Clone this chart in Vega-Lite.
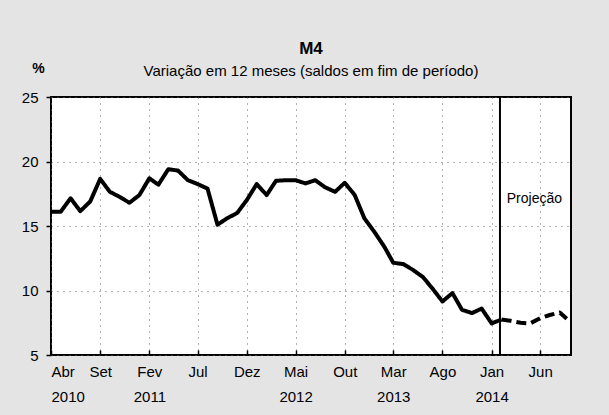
{
  "$schema": "https://vega.github.io/schema/vega-lite/v6.json",
  "width": 520,
  "height": 258,
  "autosize": {"type": "none"},
  "padding": {"left": 51, "top": 97, "right": 38, "bottom": 60},
  "background": "#e4e4e4",
  "title": {
    "text": "M4",
    "subtitle": "Variação  em 12 meses (saldos em fim de período)",
    "font": "Liberation Sans",
    "fontSize": 17,
    "fontWeight": "bold",
    "color": "#000000",
    "subtitleFont": "Liberation Sans",
    "subtitleFontSize": 15,
    "subtitleColor": "#000000",
    "subtitlePadding": 6,
    "anchor": "middle",
    "offset": -19
  },
  "config": {
    "view": {"fill": "#ffffff", "stroke": "#000000", "strokeWidth": 2},
    "axis": {
      "labelFont": "Liberation Sans",
      "labelFontSize": 15,
      "labelColor": "#000000",
      "tickColor": "#000000",
      "domain": false,
      "grid": true,
      "gridColor": "#666666",
      "gridDash": [1, 5],
      "gridWidth": 1,
      "gridOpacity": 1
    }
  },
  "datasets": {
    "m4": [
      {"mes": "2010-04-01", "valor": 16.1, "serie": "Observado"},
      {"mes": "2010-05-01", "valor": 16.1, "serie": "Observado"},
      {"mes": "2010-06-01", "valor": 17.15, "serie": "Observado"},
      {"mes": "2010-07-01", "valor": 16.15, "serie": "Observado"},
      {"mes": "2010-08-01", "valor": 16.9, "serie": "Observado"},
      {"mes": "2010-09-01", "valor": 18.65, "serie": "Observado"},
      {"mes": "2010-10-01", "valor": 17.65, "serie": "Observado"},
      {"mes": "2010-11-01", "valor": 17.25, "serie": "Observado"},
      {"mes": "2010-12-01", "valor": 16.8, "serie": "Observado"},
      {"mes": "2011-01-01", "valor": 17.4, "serie": "Observado"},
      {"mes": "2011-02-01", "valor": 18.7, "serie": "Observado"},
      {"mes": "2011-03-01", "valor": 18.2, "serie": "Observado"},
      {"mes": "2011-04-01", "valor": 19.4, "serie": "Observado"},
      {"mes": "2011-05-01", "valor": 19.3, "serie": "Observado"},
      {"mes": "2011-06-01", "valor": 18.55, "serie": "Observado"},
      {"mes": "2011-07-01", "valor": 18.25, "serie": "Observado"},
      {"mes": "2011-08-01", "valor": 17.9, "serie": "Observado"},
      {"mes": "2011-09-01", "valor": 15.1, "serie": "Observado"},
      {"mes": "2011-10-01", "valor": 15.6, "serie": "Observado"},
      {"mes": "2011-11-01", "valor": 16.0, "serie": "Observado"},
      {"mes": "2011-12-01", "valor": 17.0, "serie": "Observado"},
      {"mes": "2012-01-01", "valor": 18.25, "serie": "Observado"},
      {"mes": "2012-02-01", "valor": 17.4, "serie": "Observado"},
      {"mes": "2012-03-01", "valor": 18.5, "serie": "Observado"},
      {"mes": "2012-04-01", "valor": 18.55, "serie": "Observado"},
      {"mes": "2012-05-01", "valor": 18.55, "serie": "Observado"},
      {"mes": "2012-06-01", "valor": 18.3, "serie": "Observado"},
      {"mes": "2012-07-01", "valor": 18.55, "serie": "Observado"},
      {"mes": "2012-08-01", "valor": 18.0, "serie": "Observado"},
      {"mes": "2012-09-01", "valor": 17.65, "serie": "Observado"},
      {"mes": "2012-10-01", "valor": 18.35, "serie": "Observado"},
      {"mes": "2012-11-01", "valor": 17.4, "serie": "Observado"},
      {"mes": "2012-12-01", "valor": 15.6, "serie": "Observado"},
      {"mes": "2013-01-01", "valor": 14.55, "serie": "Observado"},
      {"mes": "2013-02-01", "valor": 13.4, "serie": "Observado"},
      {"mes": "2013-03-01", "valor": 12.15, "serie": "Observado"},
      {"mes": "2013-04-01", "valor": 12.05, "serie": "Observado"},
      {"mes": "2013-05-01", "valor": 11.6, "serie": "Observado"},
      {"mes": "2013-06-01", "valor": 11.05, "serie": "Observado"},
      {"mes": "2013-07-01", "valor": 10.15, "serie": "Observado"},
      {"mes": "2013-08-01", "valor": 9.15, "serie": "Observado"},
      {"mes": "2013-09-01", "valor": 9.8, "serie": "Observado"},
      {"mes": "2013-10-01", "valor": 8.5, "serie": "Observado"},
      {"mes": "2013-11-01", "valor": 8.25, "serie": "Observado"},
      {"mes": "2013-12-01", "valor": 8.6, "serie": "Observado"},
      {"mes": "2014-01-01", "valor": 7.45, "serie": "Observado"},
      {"mes": "2014-02-01", "valor": 7.75, "serie": "Observado"},
      {"mes": "2014-02-01", "valor": 7.75, "serie": "Projeção"},
      {"mes": "2014-03-01", "valor": 7.65, "serie": "Projeção"},
      {"mes": "2014-04-01", "valor": 7.5, "serie": "Projeção"},
      {"mes": "2014-05-01", "valor": 7.45, "serie": "Projeção"},
      {"mes": "2014-06-01", "valor": 7.85, "serie": "Projeção"},
      {"mes": "2014-07-01", "valor": 8.1, "serie": "Projeção"},
      {"mes": "2014-08-01", "valor": 8.3, "serie": "Projeção"},
      {"mes": "2014-09-01", "valor": 7.6, "serie": "Projeção"}
    ],
    "marco": [{"mes": "2014-01-27"}],
    "rotulo": [{"mes": "2014-05-14", "valor": 17.1, "texto": "Projeção"}]
  },
  "layer": [
    {
      "data": {"name": "m4"},
      "mark": {"type": "line", "color": "#000000", "strokeWidth": 4, "strokeJoin": "round"},
      "encoding": {
        "x": {
          "field": "mes",
          "type": "temporal",
          "title": null,
          "scale": {
            "type": "utc",
            "domain": [
              {"year": 2010, "month": 4, "date": 1, "utc": true},
              {"year": 2014, "month": 9, "date": 5, "utc": true}
            ]
          },
          "axis": {
            "values": [
              {"year": 2010, "month": 4, "date": 1, "utc": true},
              {"year": 2010, "month": 9, "date": 1, "utc": true},
              {"year": 2011, "month": 2, "date": 1, "utc": true},
              {"year": 2011, "month": 7, "date": 1, "utc": true},
              {"year": 2011, "month": 12, "date": 1, "utc": true},
              {"year": 2012, "month": 5, "date": 1, "utc": true},
              {"year": 2012, "month": 10, "date": 1, "utc": true},
              {"year": 2013, "month": 3, "date": 1, "utc": true},
              {"year": 2013, "month": 8, "date": 1, "utc": true},
              {"year": 2014, "month": 1, "date": 1, "utc": true},
              {"year": 2014, "month": 6, "date": 1, "utc": true}
            ],
            "labelExpr": "utcmonth(datum.value) < 5 ? [['Jan','Fev','Mar','Abr','Mai','Jun','Jul','Ago','Set','Out','Nov','Dez'][utcmonth(datum.value)], '' + utcyear(datum.value)] : ['Jan','Fev','Mar','Abr','Mai','Jun','Jul','Ago','Set','Out','Nov','Dez'][utcmonth(datum.value)]",
            "labelLineHeight": 25,
            "labelBaseline": "top",
            "tickSize": -5,
            "tickWidth": 1.5,
            "labelPadding": 14
          }
        },
        "y": {
          "field": "valor",
          "type": "quantitative",
          "scale": {"domain": [5, 25], "nice": false},
          "axis": {
            "values": [5, 10, 15, 20, 25],
            "tickSize": 5,
            "tickWidth": 1.5,
            "labelPadding": 8,
            "title": "%",
            "titleAngle": 0,
            "titleFont": "Liberation Sans",
            "titleFontSize": 14,
            "titleFontWeight": "bold",
            "titleColor": "#000000",
            "titleX": -13,
            "titleY": -29,
            "titleAlign": "center",
            "titleBaseline": "middle"
          }
        },
        "strokeDash": {
          "field": "serie",
          "type": "nominal",
          "scale": {"domain": ["Observado", "Projeção"], "range": [[1, 0], [10, 5]]},
          "legend": null
        }
      }
    },
    {
      "data": {"name": "marco"},
      "mark": {"type": "rule", "color": "#000000", "strokeWidth": 2},
      "encoding": {
        "x": {"field": "mes", "type": "temporal"}
      }
    },
    {
      "data": {"name": "rotulo"},
      "mark": {"type": "text", "font": "Liberation Sans", "fontSize": 14, "color": "#000000", "align": "center", "baseline": "middle"},
      "encoding": {
        "x": {"field": "mes", "type": "temporal"},
        "y": {"field": "valor", "type": "quantitative"},
        "text": {"field": "texto"}
      }
    }
  ]
}
